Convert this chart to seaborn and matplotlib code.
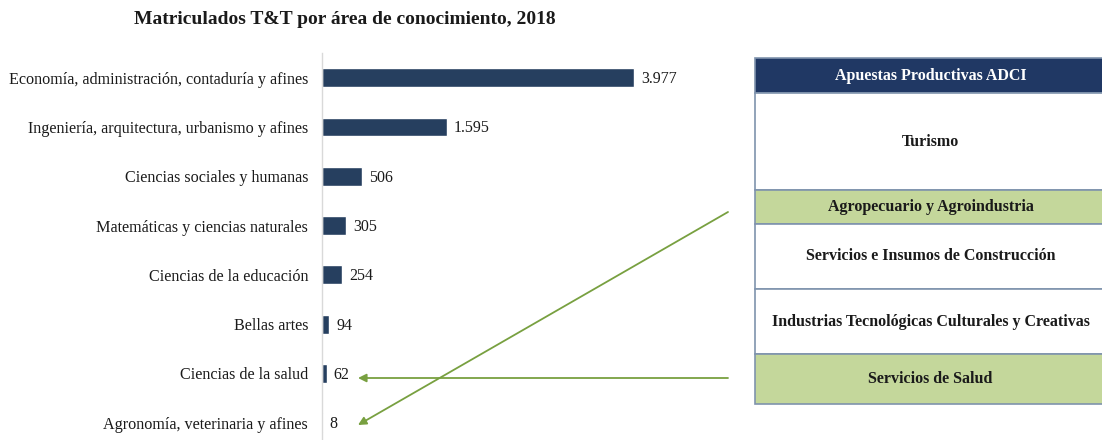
import matplotlib
matplotlib.use('Agg')
import matplotlib.pyplot as plt
import matplotlib.patches as mpatches
import seaborn as sns
import pandas as pd

# datos del gráfico
areas = ['Economía, administración, contaduría y afines',
         'Ingeniería, arquitectura, urbanismo y afines',
         'Ciencias sociales y humanas',
         'Matemáticas y ciencias naturales',
         'Ciencias de la educación',
         'Bellas artes',
         'Ciencias de la salud',
         'Agronomía, veterinaria y afines']
matriculados = [3977, 1595, 506, 305, 254, 94, 62, 8]

apuestas = ['Turismo',
            'Agropecuario y Agroindustria',
            'Servicios e Insumos de Construcción',
            'Industrias Tecnológicas Culturales y Creativas',
            'Servicios de Salud']
resaltadas = [False, True, False, False, True]
titulo_tabla = 'Apuestas Productivas ADCI'

df = pd.DataFrame({'area': areas, 'n': matriculados})

sns.set_style('white')
plt.rcParams['font.family'] = ['Liberation Serif', 'DejaVu Serif']

W, H = 1102, 440
fig = plt.figure(figsize=(W / 100, H / 100), dpi=100)

azul = '#263f5f'
verde = '#c4d79b'
verde_flecha = '#78a040'

# barras
ax = fig.add_axes([322 / W, 0, 376.6 / W, 1 - 53 / H])
sns.barplot(data=df, x='n', y='area', orient='h', color=azul,
            width=0.38, saturation=1, ax=ax)
ax.set_xlim(0, 4800)
ax.set_ylim(7.35, -0.5)
ax.set_xlabel('')
ax.set_ylabel('')
ax.set_xticks([])
for s in ['top', 'right', 'bottom']:
    ax.spines[s].set_visible(False)
ax.spines['left'].set_color('#d9d9d9')
ax.spines['left'].set_linewidth(1)
ax.tick_params(axis='y', length=0, pad=10, labelsize=11.6, labelcolor='#1a1a1a')
for i, v in enumerate(matriculados):
    ax.annotate(f'{v:,}'.replace(',', '.'), (v, i), xytext=(5, -1),
                textcoords='offset points', va='center', ha='left',
                fontsize=11.5, color='#1a1a1a')

fig.text(345 / W, 1 - 20 / H, 'Matriculados T&T por área de conocimiento, 2018',
         ha='center', va='center', fontsize=14, fontweight='bold', color='#1a1a1a')

# tabla de apuestas productivas
tax = fig.add_axes([0, 0, 1, 1])
tax.set_xlim(0, W)
tax.set_ylim(H, 0)
tax.axis('off')

x0, x1 = 755, 1108
bordes = [58, 93, 190, 224, 289, 354, 404]
tax.add_patch(mpatches.Rectangle((x0, bordes[0]), x1 - x0, bordes[1] - bordes[0],
                                 facecolor='#203864', edgecolor='#7f93ad', lw=1.2))
tax.text((x0 + x1) / 2 - 1, (bordes[0] + bordes[1]) / 2, titulo_tabla, ha='center',
         va='center', color='white', fontsize=11.5, fontweight='bold')
for k, nombre in enumerate(apuestas):
    y0, y1 = bordes[k + 1], bordes[k + 2]
    tax.add_patch(mpatches.Rectangle((x0, y0), x1 - x0, y1 - y0,
                                     facecolor=verde if resaltadas[k] else 'white',
                                     edgecolor='#7f93ad', lw=1.2))
    tax.text((x0 + x1) / 2 - 1, (y0 + y1) / 2, nombre, ha='center', va='center',
             color='#1a1a1a', fontsize=11.5, fontweight='bold')

# flechas
tax.annotate('', xy=(358, 378), xytext=(728, 378),
             arrowprops=dict(arrowstyle='-|>', color=verde_flecha, lw=1.3,
                             mutation_scale=12, shrinkA=0, shrinkB=0))
tax.annotate('', xy=(358, 425), xytext=(728, 212),
             arrowprops=dict(arrowstyle='-|>', color=verde_flecha, lw=1.3,
                             mutation_scale=12, shrinkA=0, shrinkB=0))

fig.savefig('out.png', dpi=100)
